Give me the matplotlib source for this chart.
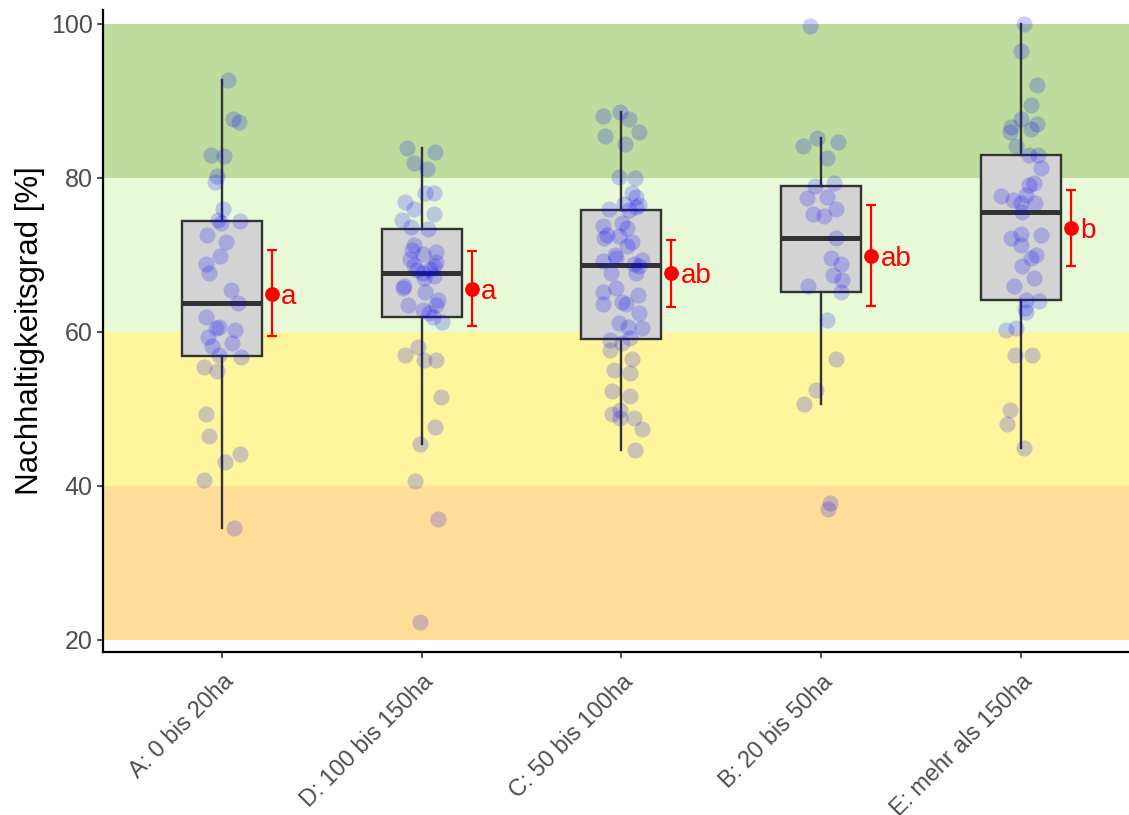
"""Boxplots of Nachhaltigkeitsgrad by farm size with jittered points,
   mean +/- CI and group letters
"""
import numpy as np
import matplotlib
matplotlib.use("Agg")
import matplotlib.pyplot as plt

plt.rcParams['font.family'] = ['Liberation Sans', 'DejaVu Sans']

categories = ["A: 0 bis 20ha", "D: 100 bis 150ha", "C: 50 bis 100ha",
              "B: 20 bis 50ha", "E: mehr als 150ha"]

A_vals = [92.7, 87.6, 87.2, 83.0, 82.9, 80.2, 79.5, 76.0, 74.5, 74.4, 74.2, 72.6,
          71.7, 69.8, 68.8, 67.6, 65.5, 63.7, 62.0, 60.7, 60.5, 60.3, 59.3, 58.5,
          58.2, 57.0, 56.8, 55.5, 54.9, 49.4, 46.5, 44.1, 43.1, 40.8, 34.6]
D_vals = [83.9, 83.3, 81.9, 81.1, 78.0, 78.1, 76.9, 75.9, 75.3, 74.5, 73.6, 71.3,
          70.7, 70.4, 70.1, 69.1, 68.7, 68.5, 68.1, 67.7, 67.2, 67.0, 66.0, 65.7,
          65.2, 64.2, 63.5, 63.5, 62.9, 62.4, 62.0, 61.3, 58.1, 57.0, 56.4, 56.4,
          51.6, 47.7, 45.5, 40.6, 35.7, 22.4, 73.4, 69.5, 68.2]
C_vals = [88.1, 88.5, 87.6, 85.5, 86.0, 84.4, 80.1, 80.0, 78.0, 77.5, 76.6, 76.2,
          75.8, 74.2, 73.5, 73.7, 72.6, 72.2, 72.4, 71.7, 71.1, 69.2, 69.6, 69.4,
          68.8, 68.5, 67.7, 67.7, 65.7, 65.2, 64.8, 63.6, 63.9, 63.6, 62.5, 61.2,
          60.7, 60.5, 58.9, 59.2, 58.5, 57.7, 56.5, 55.1, 54.7, 52.3, 51.7, 49.3,
          49.9, 48.8, 48.8, 47.4, 44.7, 76.0, 76.5, 70.0]
B_vals = [99.7, 84.2, 85.2, 84.6, 82.6, 78.9, 79.4, 77.4, 77.5, 75.9, 75.3, 75.1,
          72.2, 69.6, 68.8, 67.4, 66.7, 66.0, 65.2, 61.6, 56.5, 52.5, 50.7, 37.8, 37.0]
E_vals = [100.0, 96.5, 92.0, 89.4, 87.6, 87.0, 86.6, 85.9, 86.3, 84.2, 83.0, 83.0,
          81.3, 79.4, 79.1, 77.8, 77.6, 77.1, 76.7, 76.7, 75.6, 72.7, 72.6, 72.2,
          71.3, 70.0, 69.6, 68.6, 67.0, 65.9, 64.2, 64.0, 63.1, 62.6, 60.3, 60.5,
          57.0, 57.0, 49.9, 48.0, 44.9]

# horizontal jitter of the points (as seen in the picture)
A_jit = [0.03, 0.055, 0.083, -0.053, 0.01, -0.025, -0.033, 0.005, -0.02, 0.088, -0.003, -0.073,
         0.018, -0.008, -0.082, -0.067, 0.047, 0.08, -0.082, -0.015, -0.028, 0.067, -0.07, 0.052,
         -0.048, -0.015, 0.097, -0.092, -0.023, -0.082, -0.065, 0.088, 0.013, -0.092, 0.06]
D_jit = [-0.075, 0.067, -0.04, 0.027, 0.017, 0.06, -0.082, -0.037, 0.063, -0.098, -0.053, -0.037,
         -0.05, 0.072, 0.005, 0.072, -0.04, 0.063, -0.023, 0.008, 0.063, 0.013, -0.09, -0.095,
         0.017, 0.083, -0.07, 0.072, 0.008, 0.038, 0.055, 0.1, -0.02, -0.082, 0.01, 0.072,
         0.097, 0.068, -0.008, -0.033, 0.08, -0.008, 0.03, -0.06, 0.04]
C_jit = [-0.093, -0.005, 0.037, -0.08, 0.087, 0.017, -0.01, 0.07, 0.053, 0.073, 0.012, 0.073,
         0.037, 0.003, 0.028, -0.092, -0.072, -0.088, -0.013, 0.053, 0.028, -0.092, -0.027, 0.103,
         0.062, 0.087, 0.075, -0.05, -0.027, -0.092, 0.083, -0.092, 0.003, 0.025, 0.087, -0.013,
         0.032, 0.103, -0.058, 0.045, 0.003, -0.058, 0.053, -0.038, 0.045, -0.047, 0.045, -0.047,
         -0.005, -0.005, 0.062, 0.103, 0.067, -0.06, 0.09, -0.03]
B_jit = [-0.055, -0.093, -0.022, 0.083, 0.028, -0.03, 0.067, -0.072, 0.032, 0.073, -0.038, 0.017,
         0.073, 0.05, 0.1, 0.062, 0.103, -0.067, 0.098, 0.032, 0.073, -0.027, -0.088, 0.045, 0.037]
E_jit = [0.015, 0.003, 0.082, 0.053, 0.003, 0.082, -0.047, -0.055, 0.05, -0.025, 0.042, 0.087,
         0.1, 0.065, 0.042, 0.028, -0.097, -0.038, 0.0, 0.07, 0.007, 0.003, 0.1, -0.047,
         0.003, 0.078, 0.053, 0.007, 0.065, -0.035, 0.025, 0.09, 0.02, 0.025, -0.072, -0.025,
         -0.03, 0.058, -0.055, -0.067, 0.017]

# mean and confidence interval per group, with letters
means = [64.9, 65.6, 67.6, 69.8, 73.5]
ci_low = [59.5, 60.8, 63.3, 63.4, 68.6]
ci_high = [70.6, 70.5, 72.0, 76.5, 78.4]
letters = ["a", "a", "ab", "ab", "b"]

# rating bands
band_low = [20, 40, 60, 80]
band_high = [40, 60, 80, 100]
band_colors = ["#FFDE99", "#FFF59D", "#E8F9D8", "#BDDC9D"]

groups = [A_vals, D_vals, C_vals, B_vals, E_vals]
jitters = [A_jit, D_jit, C_jit, B_jit, E_jit]
pos = np.arange(1, len(categories) + 1)

fig = plt.figure(figsize=(11.29, 8.15), dpi=100)
ax = fig.add_axes([103 / 1129, 163 / 815, 1 - 103 / 1129, 642 / 815])

for lo, hi, col in zip(band_low, band_high, band_colors):
    ax.axhspan(lo, hi, color=col, lw=0, zorder=0)

ax.boxplot(groups, positions=pos, widths=0.4, patch_artist=True, showfliers=False,
           whis=1.5, showcaps=False,
           boxprops=dict(facecolor="#D3D3D3", edgecolor="#333333", linewidth=1.7),
           medianprops=dict(color="#333333", linewidth=3.6, solid_capstyle="butt"),
           whiskerprops=dict(color="#333333", linewidth=1.7),
           zorder=2)

for p, vals, jit in zip(pos, groups, jitters):
    ax.scatter(p + np.array(jit), vals, s=135, color="blue", alpha=0.2,
               linewidths=0, zorder=3)

err = [np.array(means) - np.array(ci_low), np.array(ci_high) - np.array(means)]
ax.errorbar(pos + 0.25, means, yerr=err, fmt="o", color="red", ms=9.6,
            elinewidth=1.6, capsize=3.8, capthick=1.6, zorder=4)
for p, m, lab in zip(pos, means, letters):
    ax.text(p + 0.297, m, lab, color="red", fontsize=20, ha="left",
            va="center_baseline", zorder=5)

ax.set_xlim(0.404, 5.542)
ax.set_ylim(18.44, 101.8)
ax.set_yticks([20, 40, 60, 80, 100])
ax.set_xticks(pos)
ax.set_xticklabels(categories, rotation=45, ha="right", va="top",
                   rotation_mode="anchor")
ax.tick_params(axis="both", labelsize=18, labelcolor="#4D4D4D", color="#333333",
               length=4, width=1.2)
ax.tick_params(axis="x", labelsize=16.8, pad=9)
ax.set_ylabel("Nachhaltigkeitsgrad [%]", fontsize=22.5, color="black")

for side in ["top", "right"]:
    ax.spines[side].set_visible(False)
for side in ["left", "bottom"]:
    ax.spines[side].set_linewidth(1.6)
    ax.spines[side].set_color("black")

fig.savefig("out.png", dpi=100)
